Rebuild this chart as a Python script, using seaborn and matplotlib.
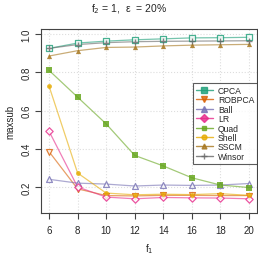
import numpy as np
import pandas as pd
import matplotlib
matplotlib.use("Agg")
import matplotlib.pyplot as plt
import seaborn as sns
from matplotlib.lines import Line2D

f1 = [6, 8, 10, 12, 14, 16, 18, 20]
methods = ["CPCA", "ROBPCA", "Ball", "LR", "Quad", "Shell", "SSCM", "Winsor"]
cpca   = [0.925, 0.953, 0.963, 0.970, 0.975, 0.980, 0.981, 0.983]
robpca = [0.385, 0.190, 0.155, 0.153, 0.156, 0.156, 0.155, 0.155]
ball   = [0.240, 0.220, 0.215, 0.205, 0.210, 0.208, 0.210, 0.218]
lr     = [0.492, 0.200, 0.147, 0.138, 0.145, 0.143, 0.142, 0.138]
quad   = [0.810, 0.670, 0.530, 0.365, 0.310, 0.248, 0.210, 0.197]
shell  = [0.728, 0.273, 0.168, 0.159, 0.162, 0.160, 0.165, 0.156]
sscm   = [0.885, 0.913, 0.930, 0.932, 0.938, 0.942, 0.944, 0.946]
winsor = [0.925, 0.945, 0.955, 0.960, 0.962, 0.963, 0.964, 0.965]
series = [cpca, robpca, ball, lr, quad, shell, sscm, winsor]

colors = ["#1B9E77", "#D95F02", "#7570B3", "#E7298A", "#66A61E", "#E6AB02", "#A6761D", "#666666"]
marks = {"CPCA": "s", "ROBPCA": "v", "Ball": "^", "LR": "D", "Quad": "s",
         "Shell": "o", "SSCM": "^", "Winsor": "P"}
openm = {"CPCA", "ROBPCA", "Ball", "LR"}

sns.set_theme(style="white")
plt.rcParams["font.family"] = ["Liberation Sans", "DejaVu Sans"]

fig = plt.figure(figsize=(2.58, 2.55), dpi=100)
ax = fig.add_axes([0.159, 0.161, 0.837, 0.721])

for m, s, c in zip(methods, series, colors):
    sns.lineplot(x=f1, y=s, ax=ax, color=c, alpha=0.6, lw=0.9, legend=False)
for m, s, c in zip(methods, series, colors):
    if m in openm:
        ax.scatter(f1, s, marker=marks[m], s=18 if m != "LR" else 14,
                   facecolors="white", edgecolors=c, linewidths=0.9, alpha=0.8, zorder=3)
    elif m == "Winsor":
        ax.scatter(f1, s, marker="+", s=22, color=c, linewidths=1.0, alpha=0.8, zorder=3)
    else:
        ax.scatter(f1, s, marker=marks[m], s=14 if m != "Shell" else 12,
                   color=c, linewidths=0, alpha=0.85, zorder=3)

ax.set_xlim(5.44, 20.56)
ax.set_ylim(0.064, 1.026)
ax.set_xticks(f1)
ax.set_yticks([0.2, 0.4, 0.6, 0.8, 1.0])
ax.set_yticklabels(["0.2", "0.4", "0.6", "0.8", "1.0"], rotation=90, va="center")
ax.tick_params(axis="x", pad=5)
ax.tick_params(axis="y", pad=3)
ax.tick_params(axis="both", labelsize=7, length=4, width=0.8, color="#444444",
               direction="out", bottom=True, left=True)
ax.grid(True, color="#DDDDDD", linestyle=":", linewidth=0.8)
for sp in ax.spines.values():
    sp.set_color("#444444")
    sp.set_linewidth(0.8)
ax.set_xlabel("f$_1$", fontsize=7, labelpad=4)
ax.set_ylabel("maxsub", fontsize=7, labelpad=4)
fig.text(0.5, 0.965, "f$_2$ = 1,  \u03b5  = 20%", ha="center", va="center", fontsize=7.5)

handles = []
for m, c in zip(methods, colors):
    if m in openm:
        h = Line2D([], [], color=c, marker=marks[m], markersize=4, lw=1.0,
                   markerfacecolor=c, markeredgecolor=c, alpha=0.8)
    elif m == "Winsor":
        h = Line2D([], [], color=c, marker="+", markersize=4, lw=1.0, alpha=0.8)
    else:
        h = Line2D([], [], color=c, marker=marks[m], markersize=3.5, lw=1.0, alpha=0.8)
    handles.append(h)
leg = ax.legend(handles, methods, loc="upper right", bbox_to_anchor=(1.0, 0.705),
                fontsize=6.2, frameon=True, fancybox=False, handlelength=2.0,
                handletextpad=0.6, labelspacing=0.05, borderpad=0.3, borderaxespad=0)
leg.get_frame().set_edgecolor("#333333")
leg.get_frame().set_linewidth(0.8)

fig.savefig("out.png", dpi=100)
